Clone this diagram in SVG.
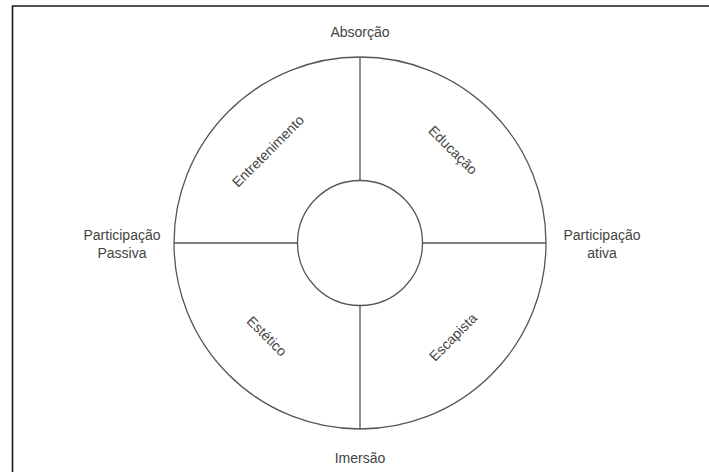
<svg xmlns="http://www.w3.org/2000/svg" width="709" height="472" viewBox="0 0 709 472">
<style>
.ln{stroke:#555;stroke-width:1.3;fill:none}
.frame{stroke:#1a1a1a;stroke-width:1.6;fill:none}
.t{font-family:"Liberation Sans",Arial,sans-serif;font-size:14px;fill:#444;text-anchor:middle}
</style>
<rect width="709" height="472" fill="#fff"/>
<path class="frame" d="M12.5 472 V6 H709"/>
<g id="outer-circle"><circle class="ln" cx="360" cy="243" r="186"/></g>
<g id="connectors">
<line class="ln" x1="360" y1="57" x2="360" y2="180.5"/>
<line class="ln" x1="360" y1="305.5" x2="360" y2="429"/>
<line class="ln" x1="174" y1="243" x2="297.5" y2="243"/>
<line class="ln" x1="422.5" y1="243" x2="546" y2="243"/>
</g>
<g id="inner-circle"><circle class="ln" cx="360" cy="243" r="62.5"/></g>
<g id="absorcao"><text class="t" x="360" y="37">Absorção</text></g>
<g id="imersao"><text class="t" x="360" y="463">Imersão</text></g>
<g id="passiva"><text class="t" x="122" y="240">Participação</text><text class="t" x="122" y="258">Passiva</text></g>
<g id="ativa"><text class="t" x="602" y="240">Participação</text><text class="t" x="602" y="258">ativa</text></g>
<g id="entretenimento"><text class="t" transform="translate(268,151) rotate(-45)" y="5">Entretenimento</text></g>
<g id="educacao"><text class="t" transform="translate(453,150) rotate(45)" y="5">Educação</text></g>
<g id="estetico"><text class="t" transform="translate(267,336) rotate(45)" y="5">Estético</text></g>
<g id="escapista"><text class="t" transform="translate(453,337) rotate(-45)" y="5">Escapista</text></g>
</svg>
